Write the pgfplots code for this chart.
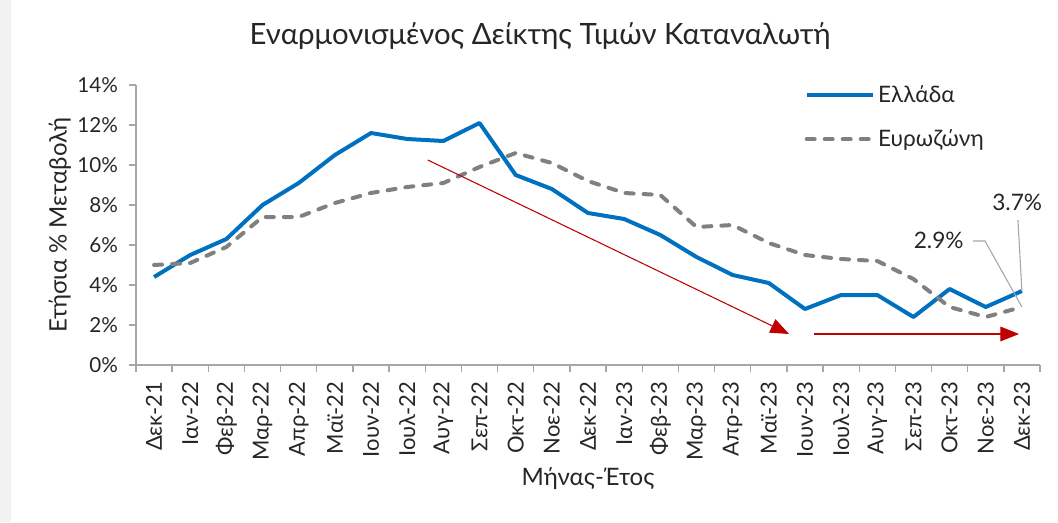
\documentclass[border=0pt]{standalone}
\usepackage{fontspec}
\setmainfont{Lato}
\usepackage{pgfplots}
\pgfplotsset{compat=1.18}
\usetikzlibrary{arrows.meta}
\definecolor{grblue}{HTML}{0070C0}
\definecolor{ezgrey}{HTML}{808080}
\definecolor{axgrey}{HTML}{A6A6A6}
\definecolor{txt}{HTML}{262626}
\definecolor{arrred}{HTML}{C00000}

\begin{document}
\begin{tikzpicture}[x=1pt,y=1pt]
  % light strip at the left edge
  \fill[black!5] (-102,-117.75) rectangle (-93.75,273.75);
  \begin{axis}[
    at={(0,0)}, anchor=south west,
    scale only axis, width=678pt, height=210pt,
    xmin=-0.5, xmax=24.5, ymin=0, ymax=14,
    axis x line*=bottom, axis y line*=left,
    axis line style={axgrey, line width=1pt},
    xtick={0,...,24},
    xticklabels={Δεκ-21,Ιαν-22,Φεβ-22,Μαρ-22,Απρ-22,Μαϊ-22,Ιουν-22,Ιουλ-22,Αυγ-22,Σεπ-22,Οκτ-22,Νοε-22,Δεκ-22,Ιαν-23,Φεβ-23,Μαρ-23,Απρ-23,Μαϊ-23,Ιουν-23,Ιουλ-23,Αυγ-23,Σεπ-23,Οκτ-23,Νοε-23,Δεκ-23},
    x tick label style={rotate=90, anchor=east, font=\fontsize{16.5}{16.5}\selectfont, text=txt},
    major x tick style={draw=none},
    minor xtick={-0.5,0.5,...,24.5},
    minor tick length=5pt,
    minor x tick style={axgrey, line width=1pt},
    ytick={0,2,...,14},
    yticklabel={\pgfmathprintnumber{\tick}\%},
    y tick label style={font=\fontsize{15.5}{15.5}\selectfont, text=txt},
    /pgf/number format/assume math mode=true,
    major y tick style={axgrey, line width=1pt},
    tick align=outside, major tick length=5pt,
    xticklabel shift=4pt, yticklabel shift=5pt,
    xlabel={Μήνας-Έτος}, ylabel={Ετήσια \% Μεταβολή},
    label style={font=\fontsize{18}{18}\selectfont, text=txt},
    xlabel style={yshift=2pt},
    ylabel style={yshift=-2pt},
    legend style={at={(0.735,1.018)}, anchor=north west, draw=none, fill=none,
      font=\fontsize{17}{17}\selectfont, text=txt, row sep=15pt,
      /tikz/every even column/.append style={column sep=4pt}},
    legend cell align=left,
    legend image code/.code={\draw[#1] (0pt,0pt) -- (50pt,0pt);},
    clip=false,
  ]
    \addplot[grblue, line width=3pt, line join=round]
      coordinates {(0,4.4)(1,5.5)(2,6.3)(3,8.0)(4,9.1)(5,10.5)(6,11.6)(7,11.3)(8,11.2)(9,12.1)(10,9.5)(11,8.8)(12,7.6)(13,7.3)(14,6.5)(15,5.4)(16,4.5)(17,4.1)(18,2.8)(19,3.5)(20,3.5)(21,2.4)(22,3.8)(23,2.9)(24,3.7)};
    \addlegendentry{Ελλάδα}
    \addplot[ezgrey, line width=3pt, line cap=round, line join=round, dash pattern=on 6pt off 7.5pt]
      coordinates {(0,5.0)(1,5.1)(2,5.9)(3,7.4)(4,7.4)(5,8.1)(6,8.6)(7,8.9)(8,9.1)(9,9.9)(10,10.6)(11,10.1)(12,9.2)(13,8.6)(14,8.5)(15,6.9)(16,7.0)(17,6.1)(18,5.5)(19,5.3)(20,5.2)(21,4.3)(22,2.9)(23,2.4)(24,2.9)};
    \addlegendentry{Ευρωζώνη}
    % trend arrows
    \draw[arrred, line width=0.8pt, -{Triangle[length=14pt, width=11pt]}]
      (axis cs:7.57,10.25) -- (axis cs:17.56,1.55);
    \draw[arrred, line width=0.8pt, -{Triangle[length=14pt, width=11pt]}]
      (axis cs:18.25,1.55) -- (axis cs:23.92,1.55);
    % callouts
    \draw[axgrey, line width=0.8pt] (axis cs:23.89,7.25) -- (axis cs:24,3.7);
    \draw[axgrey, line width=0.8pt] (axis cs:22.65,6.2) -- (axis cs:22.98,6.2) -- (axis cs:24,2.9);
    \node[text=txt, font=\fontsize{17}{17}\selectfont] at (axis cs:23.87,8.15) {3.7\%};
    \node[text=txt, font=\fontsize{17}{17}\selectfont] at (axis cs:21.7,6.25) {2.9\%};
    % title
    \node[text=txt, font=\fontsize{22}{22}\selectfont] at (rel axis cs:0.447,1.174) {Εναρμονισμένος Δείκτης Τιμών Καταναλωτή};
  \end{axis}
  \pgfresetboundingbox
  \useasboundingbox (-102,-117.75) rectangle (691.5,273.75);
\end{tikzpicture}
\end{document}
